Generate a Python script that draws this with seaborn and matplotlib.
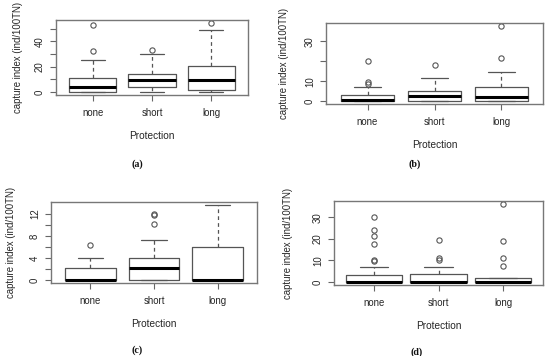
import matplotlib
matplotlib.use("Agg")
import matplotlib.pyplot as plt
import seaborn as sns

sns.set_theme(style="white")
plt.rcParams["font.family"] = ["Liberation Sans", "DejaVu Sans"]

categories = ["none", "short", "long"]

# Panel (a)
a_lo = [0, 0, 0]
a_q1 = [0, 4.2, 1.6]
a_med = [3.9, 9.2, 9.5]
a_q3 = [11, 14.5, 20.8]
a_hi = [25.5, 29.7, 48.7]
a_out = [[32, 52.4], [33], [54.5]]
a_ticks = [0, 10, 20, 30, 40, 50]
a_labels = ["0", "", "20", "", "40", ""]

# Panel (b)
b_lo = [0, 0, 0]
b_q1 = [0, 0, 0]
b_med = [0.5, 2.7, 2.2]
b_q3 = [3.1, 4.9, 7.3]
b_hi = [7.0, 11.8, 14.8]
b_out = [[8.7, 9.7, 20.1], [17.9], [21.8, 37.8]]
b_ticks = [0, 10, 20, 30]
b_labels = ["0", "10", "", "30"]

# Panel (c)
c_lo = [0, 0, 0]
c_q1 = [0, 0, 0]
c_med = [0, 2.25, 0]
c_q3 = [2.1, 4.0, 5.9]
c_hi = [4.0, 7.2, 13.6]
c_out = [[6.4], [10.2, 11.8, 12.0], []]
c_ticks = [0, 2, 4, 6, 8, 10, 12]
c_labels = ["0", "", "4", "", "8", "", "12"]

# Panel (d)
d_lo = [0, 0, 0]
d_q1 = [0, 0, 0]
d_med = [0, 0, 0]
d_q3 = [3.2, 3.5, 1.6]
d_hi = [7.1, 7.1, 1.6]
d_out = [[9.5, 10.0, 17.8, 21.3, 24.1, 30.2], [10.2, 11.3, 19.7], [7.3, 11.3, 19.2, 36.2]]
d_ticks = [0, 10, 20, 30]
d_labels = ["0", "10", "20", "30"]

W, H = 550, 356
fig = plt.figure(figsize=(W / 100, H / 100), dpi=100)
fig.patch.set_facecolor("white")

LINE = "#555555"
TXT = "#262626"

panels = [
    ((56, 20, 248, 95), (a_lo, a_q1, a_med, a_q3, a_hi, a_out), a_ticks, a_labels, "(a)", (137, 164), 33, 0.8),
    ((326, 23, 543, 104), (b_lo, b_q1, b_med, b_q3, b_hi, b_out), b_ticks, b_labels, "(b)", (415, 164), 37, 0.8),
    ((51, 202, 257, 283), (c_lo, c_q1, c_med, c_q3, c_hi, c_out), c_ticks, c_labels, "(c)", (137, 350), 35, 0.8),
    ((334, 201, 543, 285), (d_lo, d_q1, d_med, d_q3, d_hi, d_out), d_ticks, d_labels, "(d)", (417, 352), 41, 0.88),
]

for (l, t, r, b), (lo, q1, med, q3, hi, out), ticks, labels, letter, (lx, ly), yoff, bw in panels:
    ax = fig.add_axes([l / W, 1 - b / H, (r - l) / W, (b - t) / H])
    stats = []
    for i, cat in enumerate(categories):
        stats.append(dict(label=cat, whislo=lo[i], q1=q1[i], med=med[i],
                          q3=q3[i], whishi=hi[i], fliers=out[i]))
    ax.bxp(stats, positions=[1, 2, 3], widths=bw, capwidths=bw / 2,
           showfliers=True,
           boxprops=dict(color=LINE, linewidth=0.9),
           whiskerprops=dict(color=LINE, linewidth=0.9, linestyle=(0, (3, 2.5))),
           capprops=dict(color=LINE, linewidth=0.9),
           medianprops=dict(color="black", linewidth=2.2, solid_capstyle="butt"),
           flierprops=dict(marker="o", markersize=3.8, markerfacecolor="none",
                           markeredgecolor=LINE, markeredgewidth=0.8, linestyle="none"))
    ymax = max(max(hi), max([max(o) if o else 0 for o in out]))
    pad = 0.04 * ymax
    ax.set_ylim(-pad, ymax + pad)
    ax.set_xlim(0.38, 3.62)
    ax.set_xticks([1, 2, 3])
    ax.set_xticklabels(categories)
    ax.set_yticks(ticks)
    ax.set_yticklabels(labels, rotation=90, va="center")
    for s in ax.spines.values():
        s.set_visible(True)
        s.set_color("#777777")
        s.set_linewidth(1.0)
    ax.tick_params(axis="both", which="both", direction="out", length=4, width=0.8,
                   color="#666666", labelsize=6.9, labelcolor=TXT,
                   left=True, bottom=True)
    ax.tick_params(axis="x", pad=5)
    ax.tick_params(axis="y", pad=4)
    ax.set_xlabel("Protection", fontsize=7.3, color=TXT)
    ax.set_ylabel("capture index (ind/100TN)", fontsize=6.9, color=TXT)
    ax.xaxis.set_label_coords(0.5, -36 / (b - t))
    ax.yaxis.set_label_coords(-yoff / (r - l), 0.5)
    ax.set_facecolor("white")
    fig.text(lx / W, 1 - ly / H, letter, ha="center", va="center",
             fontsize=7.2, fontweight="bold", family=["Liberation Serif", "DejaVu Serif"],
             color="#111111")

fig.savefig("out.png", dpi=100, facecolor="white")
